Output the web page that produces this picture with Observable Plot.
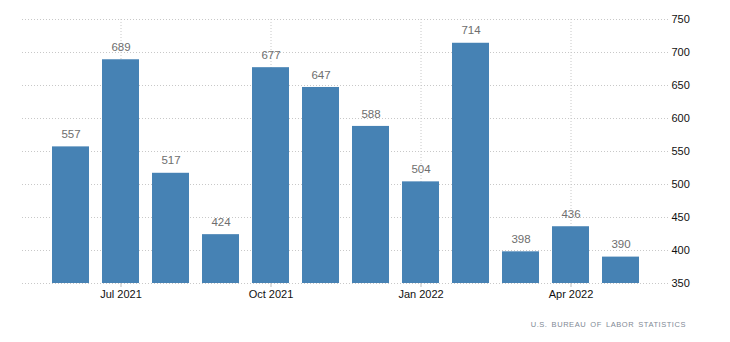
<!DOCTYPE html>
<html>
<head>
<meta charset="utf-8">
<script src="https://cdn.jsdelivr.net/npm/d3@7"></script>
<script src="https://cdn.jsdelivr.net/npm/@observablehq/plot@0.6"></script>
<style>
  body { margin: 0; background: #fff; }
  #wrap { position: relative; width: 730px; height: 342px; }
  #caption {
    position: absolute; left: 0; width: 686px; top: 320px;
    text-align: right; font-family: "Liberation Sans", Arial, sans-serif;
    font-size: 7.5px; letter-spacing: 0.55px; word-spacing: 1.5px; color: #7f8a96;
    line-height: 10px;
  }
</style>
</head>
<body>
<div id="wrap">
  <div id="chart"></div>
  <div id="caption">U.S. BUREAU OF LABOR STATISTICS</div>
</div>
<script>
const months = ["2021-06","2021-07","2021-08","2021-09","2021-10","2021-11","2021-12","2022-01","2022-02","2022-03","2022-04","2022-05"];
const values = [557, 689, 517, 424, 677, 647, 588, 504, 714, 398, 436, 390];
const tickMonths = ["2021-07","2021-10","2022-01","2022-04"];
const tickLabels = ["Jul 2021","Oct 2021","Jan 2022","Apr 2022"];
const yTicks = [350, 400, 450, 500, 550, 600, 650, 700, 750];
const baseline = 350;

const data = months.map((m, i) => ({month: m, value: values[i]}));
const fmtX = d => tickLabels[tickMonths.indexOf(d)];

const chart = Plot.plot({
  width: 730,
  height: 310,
  marginLeft: 22,
  marginRight: 62,
  marginTop: 19,
  marginBottom: 27,
  style: {fontFamily: "'Liberation Sans', Arial, sans-serif", fontSize: "11px", background: "#fff", color: "#111"},
  x: {type: "band", domain: months, padding: 0.265, insetLeft: 14.65, insetRight: 13.65},
  y: {domain: [350, 750]},
  marks: [
    Plot.ruleY(yTicks, {stroke: "#c8c8c8", strokeDasharray: "1,2"}),
    Plot.ruleX(tickMonths, {x: d => d, stroke: "#c8c8c8", strokeDasharray: "1,2"}),
    Plot.barY(data, {x: "month", y1: baseline, y2: "value", fill: "#4682b4"}),
    Plot.text(data, {x: "month", y: "value", text: d => String(d.value), dy: -12.5, fill: "#6e6e6e", fontSize: 11.5}),
    Plot.axisX({ticks: tickMonths, tickFormat: fmtX, tickSize: 4, tickPadding: 3, stroke: "#bbb", fill: "#111", label: null}),
    Plot.axisY({anchor: "right", ticks: yTicks, tickSize: 0, tickPadding: 3, fill: "#111", label: null})
  ]
});
document.getElementById("chart").appendChild(chart);
</script>
</body>
</html>
